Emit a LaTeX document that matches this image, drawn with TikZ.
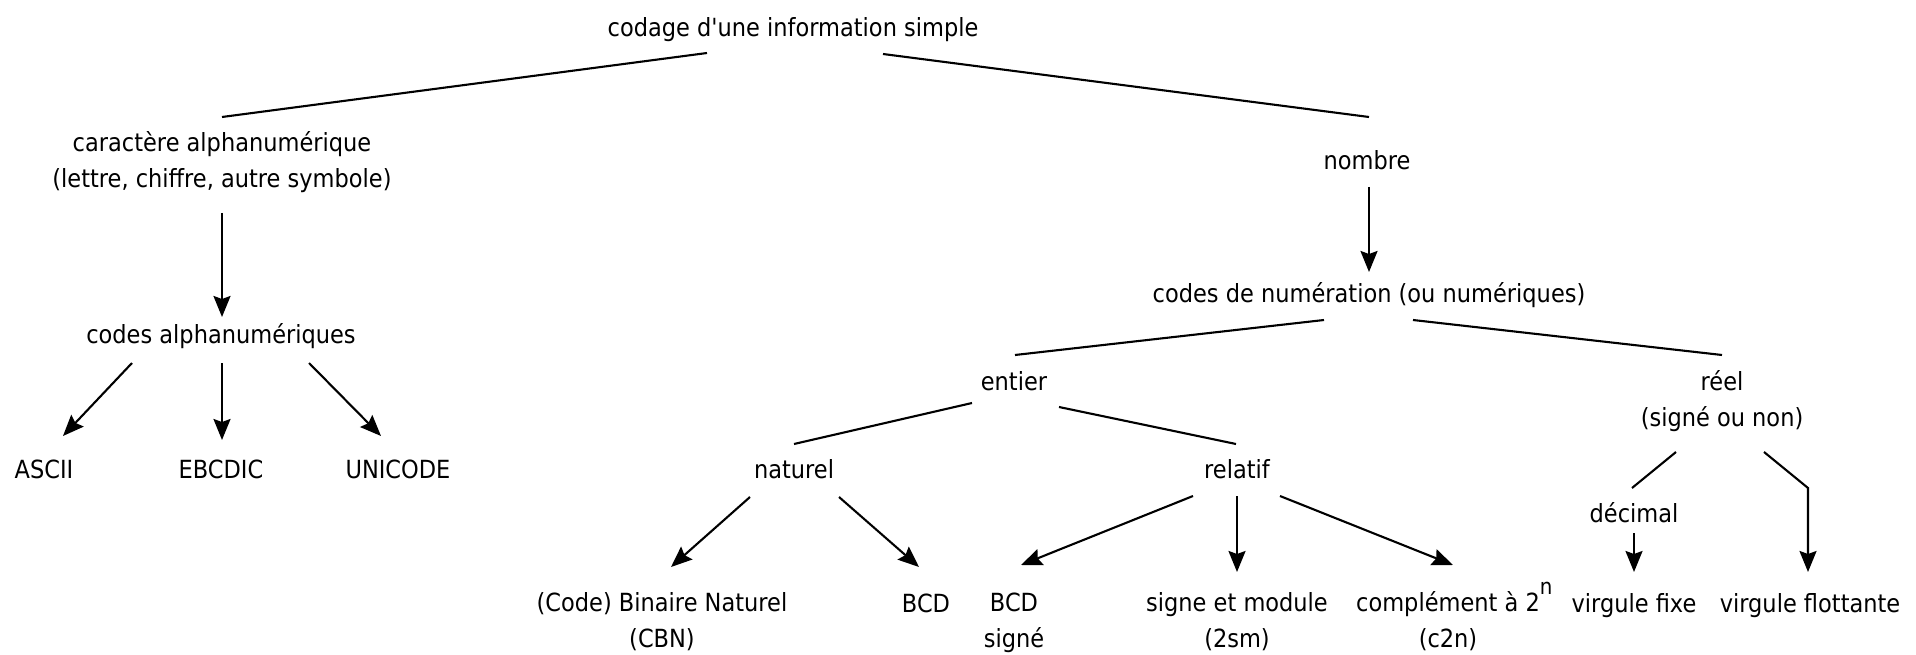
\documentclass[tikz,border=0pt]{standalone}
\usepackage{fontspec}
\setmainfont{DejaVu Sans}[FakeStretch=0.9]
\newfontfamily\plainq{DejaVu Sans}[FakeStretch=0.9]
\usetikzlibrary{arrows.meta,calc}
\begin{document}
\begin{tikzpicture}[x=1pt,y=-1pt,
  lbl/.style={anchor=base, inner sep=0pt, align=center, font=\fontsize{25}{36}\selectfont},
  link/.style={line width=2.1pt},
  arr/.style={line width=2.1pt, -{Stealth[length=21pt,width=17pt,inset=3pt]}}]
\useasboundingbox (0,0) rectangle (1916,655);
% nodes (base = baseline of the last line)
\node[lbl] (root) at (793,37) {codage d{\plainq '}une information simple};
\node[lbl] (caract) at (222,188) {caractère alphanumérique\\(lettre, chiffre, autre symbole)};
\node[lbl] (calpha) at (221,343) {codes alphanumériques};
\node[lbl] (ascii) at (44,478) {ASCII};
\node[lbl] (ebcdic) at (221,478) {EBCDIC};
\node[lbl] (unicode) at (398,478) {UNICODE};
\node[lbl] (nombre) at (1367,170) {nombre};
\node[lbl] (cnum) at (1369,302) {codes de numération (ou numériques)};
\node[lbl] (entier) at (1014,390) {entier};
\node[lbl] (reel) at (1722,426) {réel\\(signé ou non)};
\node[lbl] (naturel) at (794,478) {naturel};
\node[lbl] (relatif) at (1237,478) {relatif};
\node[lbl] (cbn) at (662,647) {(Code) Binaire Naturel\\(CBN)};
\node[lbl] (bcd) at (926,612) {BCD};
\node[lbl] (bcds) at (1014,647) {BCD\\signé};
\node[lbl] (sm) at (1237,647) {signe et module\\(2sm)};
\node[lbl] (c2n) at (1448,647) {complément à 2\rlap{\raisebox{17pt}{\fontsize{22}{22}\selectfont n}}\\(c2n)};
\node[lbl] (decimal) at (1634,522) {décimal};
\node[lbl] (vfixe) at (1634,612) {virgule fixe};
\node[lbl] (vflot) at (1810,612) {virgule flottante};
% connectors
\draw[link] ($(root.base)+(-86,16)$) -- ($(caract.base)+(0,-71)$);
\draw[link] ($(root.base)+(90,17)$) -- ($(nombre.base)+(2,-53)$);
\draw[arr] ($(caract.base)+(0,25)$) -- ($(calpha.base)+(1,-26)$);
\draw[arr] ($(calpha.base)+(-89,20)$) -- ($(ascii.base)+(19,-42)$);
\draw[arr] ($(calpha.base)+(1,20)$) -- ($(ebcdic.base)+(1,-38)$);
\draw[arr] ($(calpha.base)+(88,20)$) -- ($(unicode.base)+(-17,-42)$);
\draw[arr] ($(nombre.base)+(2,17)$) -- ($(cnum.base)+(0,-30)$);
\draw[link] ($(cnum.base)+(-45,18)$) -- ($(entier.base)+(1,-35)$);
\draw[link] ($(cnum.base)+(44,18)$) -- ($(reel.base)+(0,-71)$);
\draw[link] ($(entier.base)+(-42,13)$) -- ($(naturel.base)+(0,-34)$);
\draw[link] ($(entier.base)+(45,17)$) -- ($(relatif.base)+(-1,-34)$);
\draw[arr] ($(naturel.base)+(-44,19)$) -- ($(cbn.base)+(9,-80)$);
\draw[arr] ($(naturel.base)+(45,19)$) -- ($(bcd.base)+(-7,-45)$);
\draw[arr] ($(relatif.base)+(-44,18)$) -- ($(bcds.base)+(7,-82)$);
\draw[arr] ($(relatif.base)+(0,18)$) -- ($(sm.base)+(0,-75)$);
\draw[arr] ($(relatif.base)+(43,18)$) -- ($(c2n.base)+(5,-82)$);
\draw[link] ($(reel.base)+(-46,26)$) -- ($(decimal.base)+(-2,-34)$);
\draw[arr] ($(decimal.base)+(0,11)$) -- ($(vfixe.base)+(0,-40)$);
\coordinate (bend) at ($(reel.base)+(86,62)$);
\draw[arr] ($(reel.base)+(42,26)$) -- (bend) -- ($(vflot.base)+(-2,-40)$);
\end{tikzpicture}
\end{document}
